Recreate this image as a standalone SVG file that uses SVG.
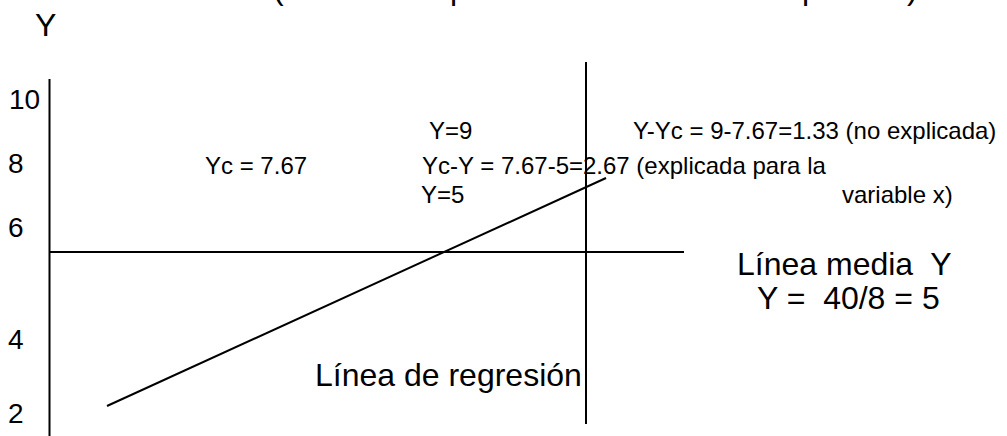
<svg xmlns="http://www.w3.org/2000/svg" width="1007" height="436" viewBox="0 0 1007 436">
<style>
text{font-family:"Liberation Sans",Arial,sans-serif;fill:#000}
.s{font-size:24px}
.m{font-size:28px}
.l{font-size:32px}
line{stroke:#000;stroke-width:2}
</style>
<rect width="1007" height="436" fill="#fff"/>
<g id="title-cut">
<text class="l" x="273" y="-1">(</text>
<text class="l" x="450" y="-1">p</text>
<text class="l" x="802" y="-1">p</text>
<text class="l" x="907" y="-1">)</text>
</g>
<g id="axis-labels">
<text class="l" x="35" y="36">Y</text>
<text class="m" x="9" y="109">10</text>
<text class="m" x="8" y="173">8</text>
<text class="m" x="8" y="237">6</text>
<text class="m" x="8" y="349">4</text>
<text class="m" x="8" y="423">2</text>
</g>
<g id="connectors">
<line id="y-axis" x1="49.5" y1="79" x2="49.5" y2="436"/>
<line id="mean-line" x1="49" y1="252" x2="684" y2="252"/>
<line id="x-line" x1="586" y1="62" x2="586" y2="424"/>
<line id="regression" x1="107" y1="406" x2="606" y2="178"/>
</g>
<g id="labels">
<text class="s" x="205" y="174">Yc = 7.67</text>
<text class="s" x="429" y="139">Y=9</text>
<text class="s" x="422" y="174">Yc-Y = 7.67-5=2.67 (explicada para la</text>
<text class="s" x="421" y="203">Y=5</text>
<text class="s" x="633" y="139">Y-Yc = 9-7.67=1.33 (no explicada)</text>
<text class="s" x="842" y="203">variable x)</text>
</g>
<g id="mean-label">
<text class="l" x="737" y="275" xml:space="preserve">Línea media  Y</text>
<text class="l" x="757" y="309" xml:space="preserve">Y =  40/8 = 5</text>
</g>
<g id="regression-label">
<text class="l" x="315" y="386">Línea de regresión</text>
</g>
</svg>
